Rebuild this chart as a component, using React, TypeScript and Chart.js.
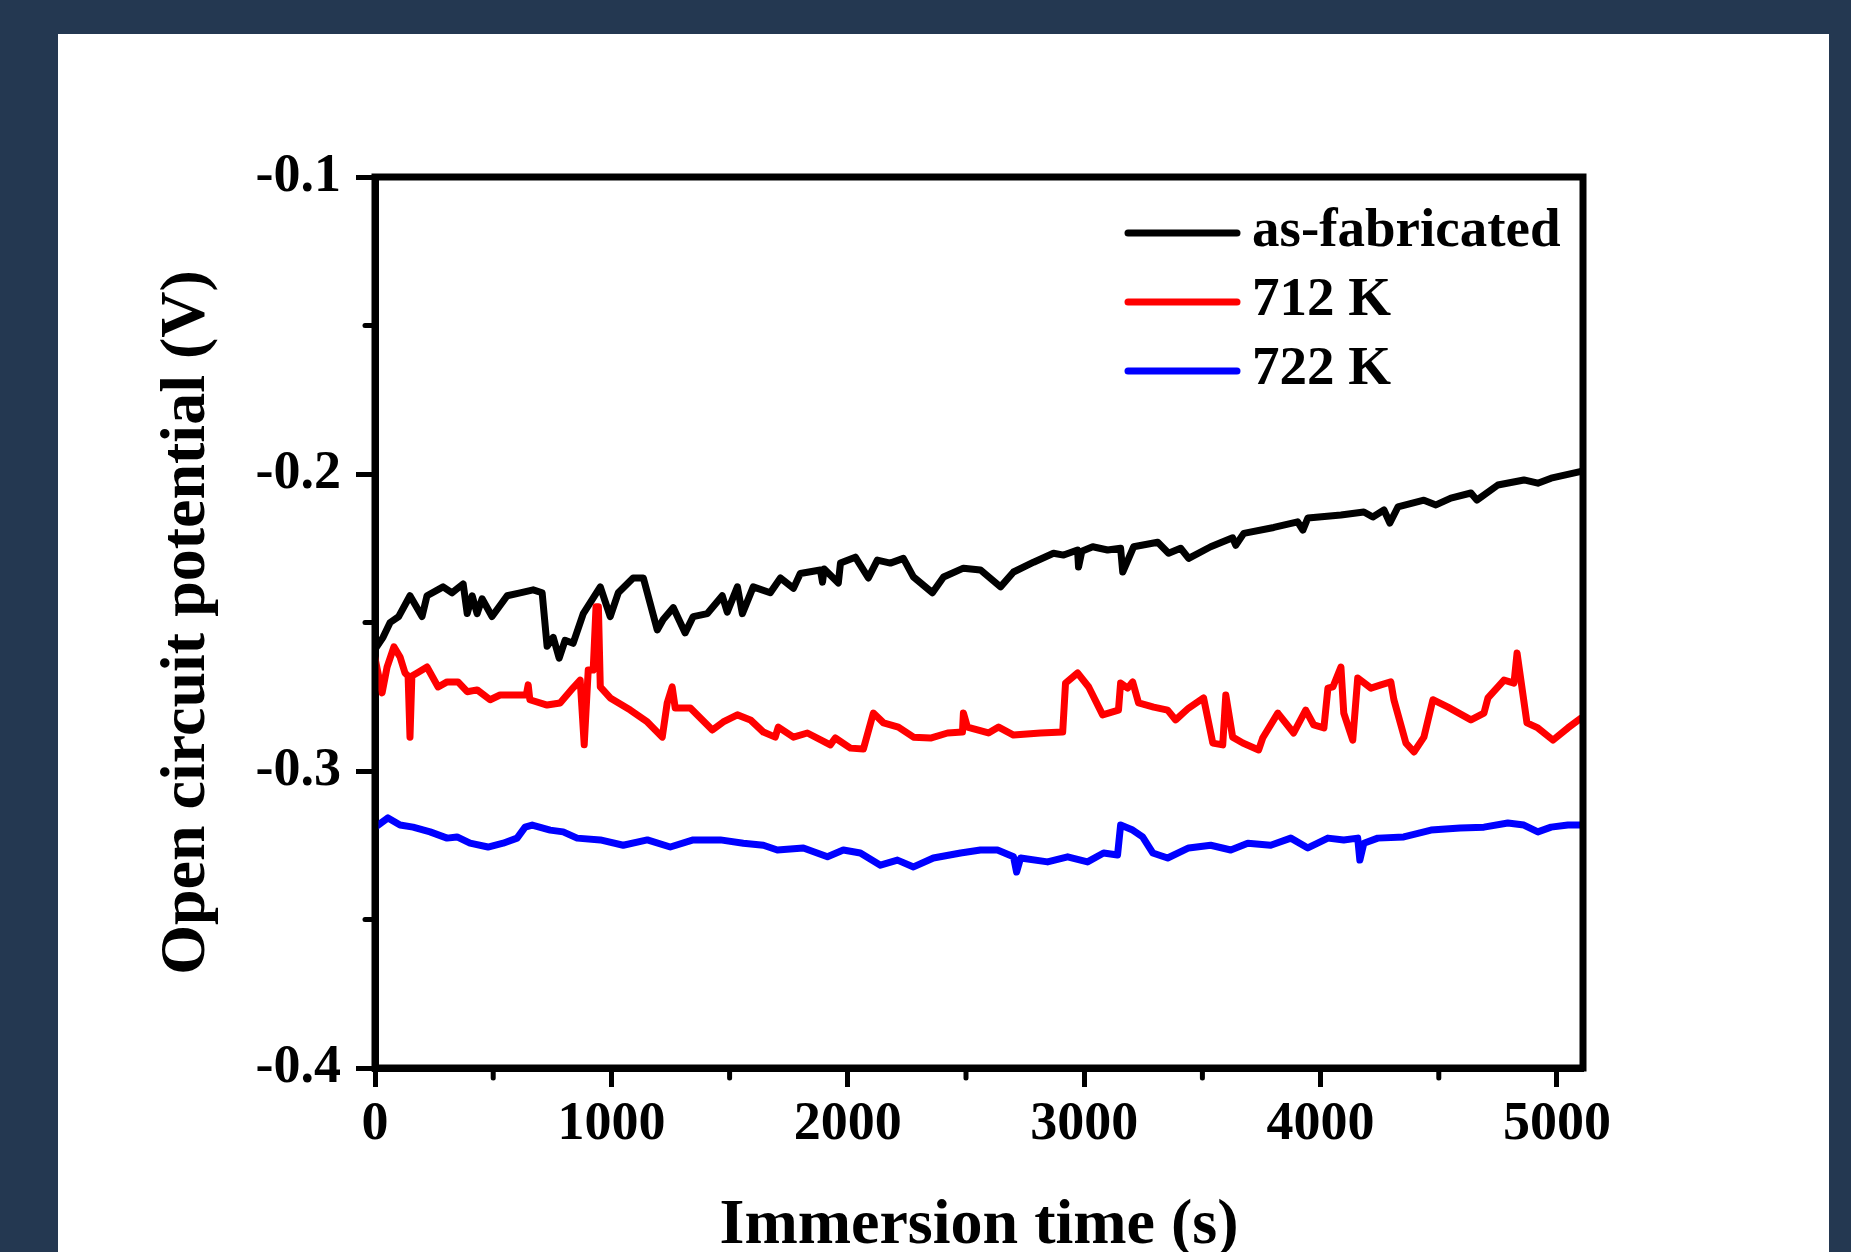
import { useEffect, useRef } from 'react';
import { Chart, registerables } from 'chart.js';

Chart.register(...registerables);

// ---------- data ----------
const seriesLabels = ['as-fabricated', '712 K', '722 K'];
const seriesColors = ['#000000', '#ff0000', '#0000ff'];

const asFabTime = [0, 34, 64, 100, 148, 199, 220, 288, 326, 373, 390, 411, 432, 453, 495, 559, 614, 669, 707, 728, 754, 779, 804, 838, 881, 953, 995, 1029, 1092, 1135, 1194, 1219, 1262, 1312, 1346, 1406, 1469, 1490, 1533, 1554, 1600, 1672, 1715, 1770, 1799, 1884, 1893, 1900, 1960, 1969, 2032, 2087, 2125, 2180, 2235, 2278, 2358, 2405, 2489, 2561, 2646, 2701, 2786, 2870, 2913, 2972, 2976, 2990, 3036, 3099, 3154, 3163, 3209, 3311, 3357, 3408, 3442, 3535, 3628, 3641, 3675, 3802, 3903, 3925, 3946, 4086, 4183, 4221, 4268, 4293, 4327, 4437, 4488, 4551, 4636, 4661, 4750, 4860, 4919, 4975, 5093, 5110];
const asFabV = [-0.259, -0.255, -0.25, -0.248, -0.241, -0.248, -0.241, -0.238, -0.24, -0.237, -0.247, -0.241, -0.247, -0.242, -0.248, -0.241, -0.24, -0.239, -0.24, -0.258, -0.255, -0.262, -0.256, -0.257, -0.247, -0.238, -0.248, -0.24, -0.235, -0.235, -0.2525, -0.249, -0.245, -0.2535, -0.248, -0.247, -0.241, -0.2465, -0.238, -0.247, -0.238, -0.24, -0.235, -0.2385, -0.2335, -0.2323, -0.2364, -0.232, -0.2367, -0.23, -0.228, -0.235, -0.229, -0.23, -0.2284, -0.2347, -0.24, -0.2347, -0.2317, -0.2323, -0.238, -0.233, -0.2297, -0.2267, -0.2273, -0.2256, -0.2313, -0.226, -0.2245, -0.2256, -0.225, -0.233, -0.2245, -0.223, -0.2267, -0.225, -0.2284, -0.2245, -0.2215, -0.224, -0.22, -0.218, -0.2161, -0.2189, -0.2148, -0.2138, -0.2128, -0.2145, -0.2121, -0.2165, -0.2111, -0.2088, -0.2104, -0.2081, -0.2064, -0.2088, -0.2037, -0.202, -0.2031, -0.2014, -0.1993, -0.199];

const k712Time = [0, 30, 51, 80, 106, 127, 140, 148, 156, 178, 220, 267, 305, 351, 390, 432, 487, 529, 640, 648, 655, 728, 783, 838, 868, 885, 902, 923, 935, 945, 953, 995, 1080, 1152, 1215, 1236, 1257, 1270, 1334, 1427, 1473, 1533, 1588, 1643, 1693, 1706, 1770, 1829, 1926, 1947, 2011, 2066, 2108, 2151, 2214, 2278, 2350, 2422, 2485, 2489, 2506, 2595, 2638, 2701, 2815, 2909, 2921, 2972, 3019, 3078, 3145, 3154, 3184, 3205, 3230, 3294, 3353, 3387, 3442, 3505, 3544, 3586, 3599, 3628, 3671, 3738, 3755, 3819, 3886, 3937, 3971, 4014, 4031, 4052, 4086, 4098, 4136, 4157, 4213, 4255, 4297, 4310, 4361, 4395, 4437, 4475, 4539, 4636, 4691, 4708, 4776, 4818, 4831, 4873, 4919, 4983, 5046, 5102];
const k712V = [-0.262, -0.2737, -0.265, -0.2582, -0.2616, -0.267, -0.268, -0.2886, -0.268, -0.267, -0.265, -0.2717, -0.27, -0.27, -0.2733, -0.2727, -0.276, -0.2744, -0.2744, -0.271, -0.276, -0.2778, -0.2771, -0.272, -0.2694, -0.2912, -0.266, -0.266, -0.2447, -0.2447, -0.2717, -0.2754, -0.2795, -0.2835, -0.2886, -0.2771, -0.2717, -0.2788, -0.2788, -0.2862, -0.2835, -0.2811, -0.2828, -0.2869, -0.2886, -0.2852, -0.2886, -0.2872, -0.2912, -0.2889, -0.2923, -0.2926, -0.2805, -0.2838, -0.2852, -0.2886, -0.2889, -0.2872, -0.2869, -0.2805, -0.2852, -0.2872, -0.2852, -0.2879, -0.2872, -0.2869, -0.2704, -0.267, -0.2717, -0.2811, -0.2795, -0.2704, -0.2721, -0.27, -0.2771, -0.2785, -0.2795, -0.2828, -0.2788, -0.2754, -0.2906, -0.2912, -0.2744, -0.2886, -0.2906, -0.2929, -0.2889, -0.2805, -0.2872, -0.2795, -0.2845, -0.2855, -0.2721, -0.2717, -0.265, -0.2805, -0.2896, -0.2687, -0.2721, -0.271, -0.27, -0.276, -0.2906, -0.2936, -0.2886, -0.276, -0.2785, -0.2828, -0.2805, -0.2754, -0.2694, -0.2704, -0.2603, -0.2838, -0.2855, -0.2896, -0.2855, -0.2822];

const k722Time = [0, 55, 106, 161, 233, 305, 347, 402, 478, 542, 601, 635, 665, 741, 796, 855, 953, 1050, 1152, 1249, 1346, 1461, 1558, 1643, 1702, 1812, 1914, 1981, 2053, 2138, 2210, 2278, 2362, 2477, 2561, 2633, 2701, 2714, 2731, 2845, 2930, 3014, 3082, 3141, 3154, 3205, 3247, 3290, 3353, 3442, 3535, 3620, 3692, 3789, 3874, 3946, 4031, 4098, 4157, 4166, 4183, 4242, 4352, 4467, 4590, 4691, 4792, 4860, 4919, 4975, 5046, 5110];
const k722V = [-0.319, -0.3158, -0.3182, -0.3189, -0.3205, -0.3226, -0.3222, -0.3243, -0.3256, -0.3243, -0.3226, -0.3189, -0.3182, -0.3199, -0.3205, -0.3226, -0.3232, -0.325, -0.3232, -0.3256, -0.3232, -0.3232, -0.3243, -0.325, -0.3266, -0.3259, -0.3289, -0.3266, -0.3276, -0.3317, -0.33, -0.3323, -0.3293, -0.3276, -0.3266, -0.3266, -0.3289, -0.334, -0.3293, -0.3306, -0.3289, -0.3306, -0.3276, -0.3283, -0.3182, -0.3199, -0.3222, -0.3276, -0.3293, -0.3259, -0.325, -0.3266, -0.3243, -0.325, -0.3226, -0.3259, -0.3226, -0.3232, -0.3226, -0.33, -0.3243, -0.3226, -0.3222, -0.3199, -0.3192, -0.3189, -0.3175, -0.3182, -0.3205, -0.3189, -0.3182, -0.3182];

const xTickValues = [0, 1000, 2000, 3000, 4000, 5000];
const xMinorTicks = [500, 1500, 2500, 3500, 4500];
const yTickValues = [-0.4, -0.3, -0.2, -0.1];
const yMinorTicks = [-0.35, -0.25, -0.15];
const xTitle = 'Immersion time (s)';
const yTitle = 'Open circuit potential (V)';

const FONT = "'Liberation Serif', 'Times New Roman', serif";

const toPoints = (ts: number[], vs: number[]) => ts.map((t, i) => ({ x: t, y: vs[i] }));

const backgroundPlugin = {
  id: 'panelBackground',
  beforeDraw(chart: any) {
    const { ctx, width, height } = chart;
    ctx.save();
    ctx.fillStyle = '#243851';
    ctx.fillRect(0, 0, width, height);
    ctx.fillStyle = '#ffffff';
    ctx.fillRect(58, 34, 1771, height - 34);
    ctx.restore();
  },
};

const framePlugin = {
  id: 'frameAndLegend',
  afterDraw(chart: any) {
    const { ctx, chartArea } = chart;
    const { left, right, top, bottom } = chartArea;
    const xs = chart.scales.x;
    const ys = chart.scales.y;
    ctx.save();
    // frame
    ctx.strokeStyle = '#000';
    ctx.lineWidth = 7;
    ctx.lineJoin = 'miter';
    ctx.strokeRect(left, top, right - left, bottom - top);
    // minor ticks
    ctx.lineWidth = 5;
    ctx.lineCap = 'round';
    xMinorTicks.forEach((v) => {
      const px = xs.getPixelForValue(v);
      ctx.beginPath();
      ctx.moveTo(px, bottom + 3);
      ctx.lineTo(px, bottom + 10);
      ctx.stroke();
    });
    yMinorTicks.forEach((v) => {
      const py = ys.getPixelForValue(v);
      ctx.beginPath();
      ctx.moveTo(left - 3, py);
      ctx.lineTo(left - 10, py);
      ctx.stroke();
    });
    // legend
    const lineStart = right - 455;
    const lineEnd = right - 346;
    const textX = right - 331;
    ctx.font = `bold 55px ${FONT}`;
    ctx.textBaseline = 'middle';
    ctx.textAlign = 'left';
    chart.data.datasets.forEach((ds: any, i: number) => {
      const y = top + 56 + i * 69;
      ctx.strokeStyle = ds.borderColor;
      ctx.lineWidth = 7;
      ctx.lineCap = 'round';
      ctx.beginPath();
      ctx.moveTo(lineStart, y);
      ctx.lineTo(lineEnd, y);
      ctx.stroke();
      ctx.fillStyle = '#000';
      ctx.fillText(ds.label, textX, y - 1);
    });
    ctx.restore();
  },
};

export default function App() {
  const ref = useRef<HTMLCanvasElement>(null);

  useEffect(() => {
    if (!ref.current) return;
    const seriesData = [
      toPoints(asFabTime, asFabV),
      toPoints(k712Time, k712V),
      toPoints(k722Time, k722V),
    ];
    const chart = new Chart(ref.current, {
      type: 'line',
      data: {
        datasets: seriesLabels.map((label, i) => ({
          label,
          data: seriesData[i],
          borderColor: seriesColors[i],
          backgroundColor: seriesColors[i],
          borderWidth: 7,
          pointRadius: 0,
          tension: 0,
          borderJoinStyle: 'round',
          borderCapStyle: 'round',
          fill: false,
          order: 3 - i,
        })),
      },
      options: {
        responsive: false,
        animation: false,
        events: [],
        layout: { padding: { top: 177, right: 268, left: 0, bottom: 0 } },
        plugins: { legend: { display: false }, tooltip: { enabled: false } },
        scales: {
          x: {
            type: 'linear',
            min: 0,
            max: 5110,
            afterBuildTicks: (s: any) => {
              s.ticks = xTickValues.map((v) => ({ value: v }));
            },
            afterFit: (s: any) => {
              s.height = 184;
            },
            ticks: {
              font: { family: FONT, size: 54, weight: 'bold' },
              color: '#000',
              padding: 6,
              maxRotation: 0,
              autoSkip: false,
              callback: (v: any) => String(v),
            },
            grid: {
              drawOnChartArea: false,
              drawTicks: true,
              tickLength: 19,
              tickWidth: 5,
              tickColor: '#000',
            },
            border: { display: true, color: '#000', width: 7 },
            title: {
              display: true,
              text: xTitle,
              color: '#000',
              font: { family: FONT, size: 64, weight: 'bold', lineHeight: 1 },
              padding: { top: 0, bottom: -6 },
            },
          },
          y: {
            type: 'linear',
            min: -0.4,
            max: -0.1,
            afterBuildTicks: (s: any) => {
              s.ticks = yTickValues.map((v) => ({ value: v }));
            },
            afterFit: (s: any) => {
              s.width = 375;
            },
            ticks: {
              font: { family: FONT, size: 54, weight: 'bold' },
              color: '#000',
              padding: 15,
              autoSkip: false,
              callback: (v: any) => Number(v).toFixed(1),
            },
            grid: {
              drawOnChartArea: false,
              drawTicks: true,
              tickLength: 19,
              tickWidth: 5,
              tickColor: '#000',
            },
            border: { display: true, color: '#000', width: 7 },
            title: {
              display: true,
              text: yTitle,
              color: '#000',
              font: { family: FONT, size: 64, weight: 'bold', lineHeight: 1 },
              padding: { top: 155, bottom: 0 },
            },
          },
        },
      },
      plugins: [backgroundPlugin, framePlugin],
    } as any);
    return () => chart.destroy();
  }, []);

  return (
    <div style={{ position: 'fixed', left: 0, top: 0, width: 1851, height: 1252, overflow: 'hidden' }}>
      <canvas ref={ref} width={1851} height={1252} style={{ display: 'block', width: 1851, height: 1252 }} />
    </div>
  );
}
